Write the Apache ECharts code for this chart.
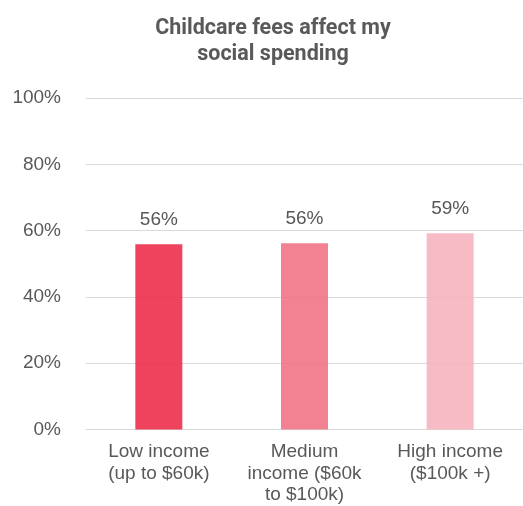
<!DOCTYPE html>
<html>
<head>
<meta charset="utf-8">
<script src="https://cdn.jsdelivr.net/npm/echarts@6/dist/echarts.min.js"></script>
<style>
html,body{margin:0;padding:0;background:#fff;}
#c{width:523px;height:506px;}
</style>
</head>
<body>
<div id="c"></div>
<script>
var titleText = 'Childcare fees affect my\nsocial spending';
var categories = ['Low income\n(up to $60k)', 'Medium\nincome ($60k\nto $100k)', 'High income\n($100k +)'];
var values = [0.559, 0.562, 0.592];
var barColors = ['#EC2847', '#F07183', '#F6B2BE'];
var yTicks = [0, 0.2, 0.4, 0.6, 0.8, 1.0];

var chart = echarts.init(document.getElementById('c'), null, {renderer: 'canvas'});
chart.setOption({
  animation: false,
  backgroundColor: '#ffffff',
  title: {
    text: titleText,
    left: 268,
    textAlign: 'center',
    top: 11,
    textStyle: {
      fontFamily: 'Roboto, "Liberation Sans", Arial, sans-serif',
      fontWeight: 'bold',
      fontSize: 21.5,
      lineHeight: 26,
      color: '#595959'
    }
  },
  grid: {left: 86, width: 442, top: 98, bottom: 75, containLabel: false},
  xAxis: {
    type: 'category',
    data: categories,
    axisTick: {show: false},
    axisLine: {lineStyle: {color: '#d9d9d9', width: 1}},
    axisLabel: {
      interval: 0,
      margin: 12,
      fontFamily: '"Liberation Sans", Arial, sans-serif',
      fontSize: 19,
      lineHeight: 21.5,
      color: '#595959'
    }
  },
  yAxis: {
    type: 'value',
    min: yTicks[0],
    max: yTicks[yTicks.length - 1],
    interval: 0.2,
    axisLine: {show: false},
    axisTick: {show: false},
    splitLine: {lineStyle: {color: '#d9d9d9', width: 1}},
    axisLabel: {
      margin: 25,
      fontFamily: '"Liberation Sans", Arial, sans-serif',
      fontSize: 19,
      color: '#595959',
      formatter: function (v) { return Math.round(v * 100) + '%'; }
    }
  },
  series: [{
    type: 'bar',
    barWidth: 47,
    data: values.map(function (v, i) {
      return {value: v, itemStyle: {color: barColors[i], opacity: 0.88}};
    }),
    label: {
      show: true,
      position: 'top',
      distance: 15,
      fontFamily: '"Liberation Sans", Arial, sans-serif',
      fontSize: 19,
      color: '#404040',
      formatter: function (p) { return Math.round(p.value * 100) + '%'; }
    }
  }]
});
</script>
</body>
</html>
